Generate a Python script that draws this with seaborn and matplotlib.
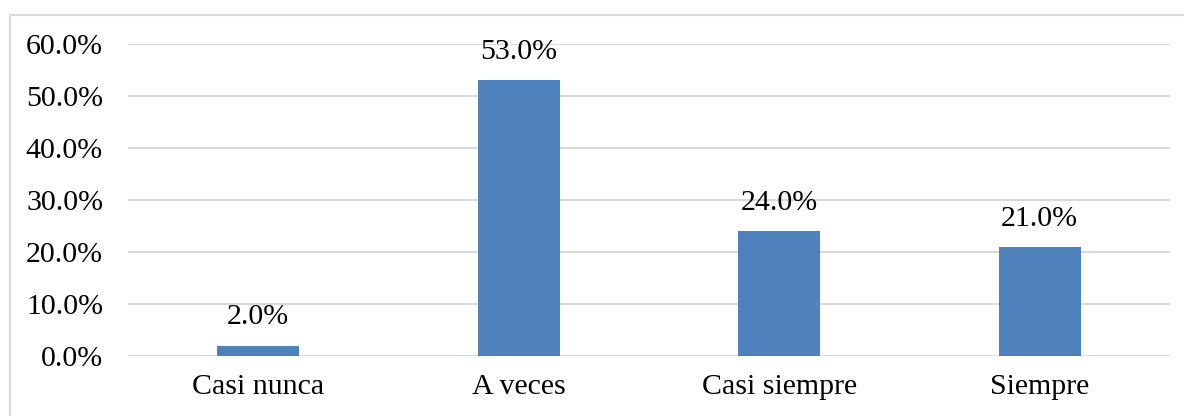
import matplotlib
matplotlib.use("Agg")
import matplotlib.pyplot as plt
from matplotlib.patches import Rectangle
import seaborn as sns
import pandas as pd

categories = ["Casi nunca", "A veces", "Casi siempre", "Siempre"]
values = [2.0, 53.0, 24.0, 21.0]
yticks = [0, 10, 20, 30, 40, 50, 60]

sns.set_theme(style="white")
plt.rcParams["font.family"] = ["Liberation Serif", "DejaVu Serif"]

W, H = 1184, 416
FS = 21.5
fig = plt.figure(figsize=(W / 100, H / 100), dpi=100)
fig.patch.set_facecolor("white")

# outer chart frame (extends past the right and bottom edges)
fig.patches.append(Rectangle((10 / W, -0.2), 1.5, 1.2 - 15 / H, transform=fig.transFigure,
                             fill=False, edgecolor="#D9D9D9", linewidth=1.5, zorder=0))

ax = fig.add_axes([128 / W, 60 / H, 1042 / W, 312 / H])
df = pd.DataFrame({"cat": categories, "val": values})
sns.barplot(data=df, x="cat", y="val", color="#4F81BD", saturation=1, width=0.315,
            linewidth=0, ax=ax)

ax.set_ylim(0, 60)
ax.set_xlim(-0.5, 3.5)
ax.set_yticks(yticks)
ax.set_yticklabels([f"{v:.1f}%" for v in yticks])
ax.yaxis.grid(True, color="#D9D9D9", linewidth=1.5)
ax.set_axisbelow(True)
for s in ax.spines.values():
    s.set_visible(False)
ax.set_xlabel("")
ax.set_ylabel("")
ax.tick_params(axis="y", length=0, pad=18, labelsize=FS, colors="black")
ax.tick_params(axis="x", length=0, pad=13, labelsize=FS, colors="black")

for i, v in enumerate(values):
    ax.annotate(f"{v:.1f}%", (i, v), xytext=(0, 11), textcoords="offset points",
                ha="center", va="bottom", fontsize=FS, color="black")

fig.savefig("out.png", dpi=100)
